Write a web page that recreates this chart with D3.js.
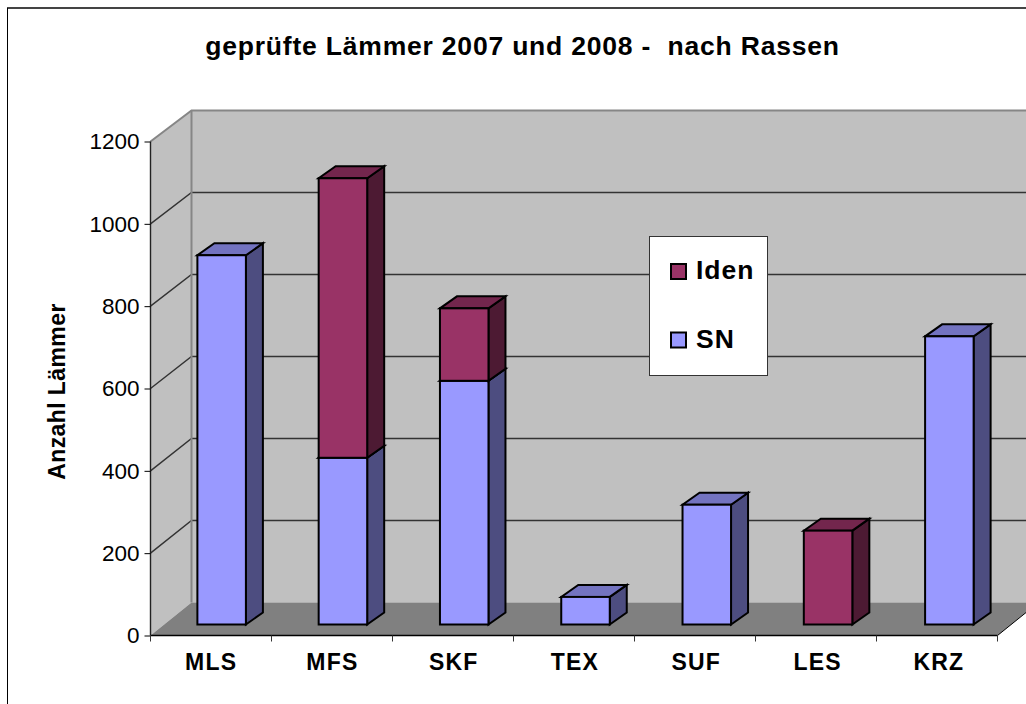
<!DOCTYPE html>
<html><head><meta charset="utf-8"><script src="https://cdn.jsdelivr.net/npm/d3@7/dist/d3.min.js"></script>
<style>html,body{margin:0;padding:0;background:#fff}svg{display:block}text{font-family:"Liberation Sans",Arial,sans-serif;fill:#000}</style></head><body>
<script>
const categories=["MLS","MFS","SKF","TEX","SUF","LES","KRZ"];
const snValues=[897,405,592,67,291,0,700];
const idenValues=[0,679,176,0,0,228,0];
const yTicks=[0,200,400,600,800,1000,1200];
const title="geprüfte Lämmer 2007 und 2008 -  nach Rassen";
const yTitle="Anzahl Lämmer";
const legendItems=[{name:"Iden",color:"#993366"},{name:"SN",color:"#9999ff"}];

const W=1026,H=704,left=150.5,right=997.5,base=635.5,top0=141.5;
const depthX=41,barDepth={x:17,y:-12},barShiftX=10.5;
const svg=d3.select("body").append("svg").attr("width",W).attr("height",H);
const x=d3.scaleBand().domain(categories).range([left,right+2]).paddingInner(0.6).paddingOuter(0.3);
const y=d3.scaleLinear().domain([0,1200]).range([base,top0]);
const yBack=d3.scaleLinear().domain([0,1200]).range([602.5,110.5]);
const yBar=d3.scaleLinear().domain([0,1200]).range([624.5,130.5]);
const pts=a=>a.map(p=>p.join(",")).join(" ");

svg.append("line").attr("x1",7).attr("x2",W).attr("y1",8).attr("y2",8).attr("stroke","#444").attr("stroke-width",2);
svg.append("line").attr("x1",7.5).attr("x2",7.5).attr("y1",8).attr("y2",H).attr("stroke","#000");
const g=svg.append("g");
const bx=left+depthX, rx=right+depthX;
// walls
g.append("polygon").attr("points",pts([[left,y(0)],[bx,yBack(0)],[bx,yBack(1200)],[left,y(1200)]])).attr("fill","#c0c0c0");
g.append("polygon").attr("points",pts([[bx,yBack(0)],[rx,yBack(0)],[rx,yBack(1200)],[bx,yBack(1200)]])).attr("fill","#c0c0c0");
g.append("polygon").attr("points",pts([[left,y(0)],[right,y(0)],[rx,yBack(0)],[bx,yBack(0)]])).attr("fill","#808080");
// gridlines
yTicks.slice(1,-1).forEach(t=>{
  g.append("polyline").attr("points",pts([[left,y(t)],[bx,yBack(t)],[rx,yBack(t)]])).attr("fill","none").attr("stroke","#333").attr("stroke-width",1.4);
});
g.append("polyline").attr("points",pts([[left,y(1200)],[bx,yBack(1200)],[rx,yBack(1200)]])).attr("fill","none").attr("stroke","#868686").attr("stroke-width",2);
g.append("line").attr("x1",bx).attr("x2",bx).attr("y1",yBack(1200)).attr("y2",yBack(0)).attr("stroke","#868686").attr("stroke-width",2);
// axes
g.append("line").attr("x1",left).attr("x2",left).attr("y1",y(1200)).attr("y2",y(0)).attr("stroke","#222").attr("stroke-width",1.4);
g.append("line").attr("x1",left).attr("x2",right).attr("y1",y(0)).attr("y2",y(0)).attr("stroke","#000").attr("stroke-width",1.4);
g.append("line").attr("x1",right).attr("x2",rx).attr("y1",y(0)).attr("y2",yBack(0)).attr("stroke","#000");
const yAxis=svg.append("g").attr("transform",`translate(${left},0)`).call(d3.axisLeft(y).tickValues(yTicks).tickFormat(d3.format("d")).tickSize(6).tickPadding(5).tickSizeOuter(0));
yAxis.select(".domain").remove();
yAxis.selectAll("text").attr("font-family",null).style("font-size","22.5px");
const xb=d3.scalePoint().domain(d3.range(8)).range([left,right]);
svg.append("g").selectAll("line").data(d3.range(8)).join("line").attr("x1",d=>xb(d)).attr("x2",d=>xb(d)).attr("y1",base).attr("y2",base+6).attr("stroke","#333");
svg.append("g").selectAll("text").data(categories).join("text")
  .attr("x",d=>x(d)+x.bandwidth()/2).attr("y",670).attr("text-anchor","middle").style("font-size","23px").style("font-weight","bold").style("letter-spacing","1.2px").text(d=>d);
// bars
function box(px,w,v0,v1,col,side,topc){
  const a=yBar(v0),b=yBar(v1),d=barDepth,l=px+barShiftX,r=l+w;
  const s=svg.append("g").attr("stroke","#000").attr("stroke-width",2).attr("stroke-linejoin","miter");
  s.append("polygon").attr("points",pts([[r,a],[r+d.x,a+d.y],[r+d.x,b+d.y],[r,b]])).attr("fill",side);
  s.append("polygon").attr("points",pts([[l,b],[r,b],[r+d.x,b+d.y],[l+d.x,b+d.y]])).attr("fill",topc);
  s.append("rect").attr("x",l).attr("y",b).attr("width",w).attr("height",a-b).attr("fill",col);
}
categories.forEach((c,i)=>{
  const s=snValues[i],n=idenValues[i],w=x.bandwidth();
  if(s>0) box(x(c),w,0,s,"#9999ff","#4d4d80","#7373c0");
  if(n>0) box(x(c),w,s,s+n,"#993366","#4d1a33","#73264d");
});
// legend
const lg=svg.append("g");
lg.append("rect").attr("x",649.5).attr("y",236.5).attr("width",118).attr("height",139).attr("fill","#fff").attr("stroke","#333");
legendItems.forEach((d,i)=>{
  const cy=[271.5,340][i];
  lg.append("rect").attr("x",671).attr("y",cy-7.5).attr("width",15).attr("height",15).attr("fill",d.color).attr("stroke","#000").attr("stroke-width",2);
  lg.append("text").attr("x",696).attr("y",[279,347.5][i]).style("font-size","26.5px").style("font-weight","bold").style("letter-spacing","1px").text(d.name);
});
// titles
svg.append("text").attr("x",522.5).attr("y",55).attr("text-anchor","middle").style("font-size","26.5px").style("font-weight","bold").style("letter-spacing","0.8px").style("white-space","pre").text(title);
svg.append("text").attr("transform","translate(65,391.5) rotate(-90)").attr("text-anchor","middle").style("font-size","23px").style("font-weight","bold").style("letter-spacing","0.4px").text(yTitle);
</script></body></html>
